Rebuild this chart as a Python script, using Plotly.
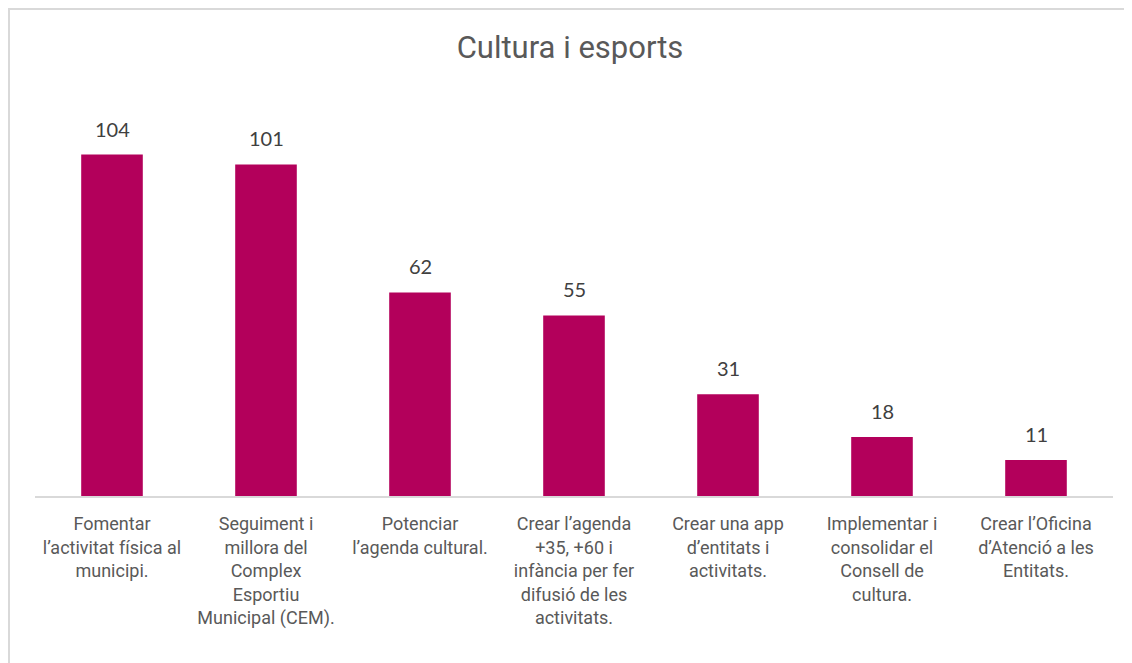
import plotly.graph_objects as go

# data
categories = [
    "Fomentar<br>l’activitat física al<br>municipi.",
    "Seguiment i<br>millora del<br>Complex<br>Esportiu<br>Municipal (CEM).",
    "Potenciar<br>l’agenda cultural.",
    "Crear l’agenda<br>+35, +60 i<br>infància per fer<br>difusió de les<br>activitats.",
    "Crear una app<br>d’entitats i<br>activitats.",
    "Implementar i<br>consolidar el<br>Consell de<br>cultura.",
    "Crear l’Oficina<br>d’Atenció a les<br>Entitats.",
]
values = [104, 101, 62, 55, 31, 18, 11]

# the page body has an 8px margin, so the figure sits 8px in from the window edge
W, H = 1124, 655
ml, mr, mt, mb = 27, 19, 94, 167
pw = W - ml - mr
ph = H - mt - mb

fig = go.Figure(go.Bar(
    x=categories,
    y=values,
    marker=dict(color="#b3005b", line=dict(width=0)),
    width=0.4,
    hoverinfo="skip",
))

# value labels above the bars
for c, v in zip(categories, values):
    fig.add_annotation(
        x=c, y=v, text=str(v), showarrow=False,
        yanchor="middle", yshift=26,
        font=dict(family="Lato", size=20, color="#404040"),
    )

# light grey frame round the chart (only left and top are visible)
fig.add_shape(
    type="rect", xref="paper", yref="paper",
    x0=-(ml - 1) / pw, x1=1.2,
    y0=-1, y1=1 + (mt - 1) / ph,
    line=dict(color="#d9d9d9", width=2),
)

fig.update_layout(
    width=W, height=H,
    margin=dict(l=ml, r=mr, t=mt, b=mb),
    paper_bgcolor="white",
    plot_bgcolor="white",
    showlegend=False,
    title=dict(
        text="Cultura i esports",
        x=0.5, xanchor="center",
        y=1 - 39 / H, yanchor="middle",
        font=dict(family="Roboto", size=31, color="#595959"),
    ),
    xaxis=dict(
        showline=True, linecolor="#d9d9d9", linewidth=1.5,
        showgrid=False, ticks="",
        tickangle=0,
        ticklabelstandoff=11,
        tickfont=dict(family="Roboto", size=18, color="#595959"),
    ),
    yaxis=dict(
        range=[0, 120],
        visible=False,
        showgrid=False,
        zeroline=False,
    ),
)

fig.write_html("out.html")
